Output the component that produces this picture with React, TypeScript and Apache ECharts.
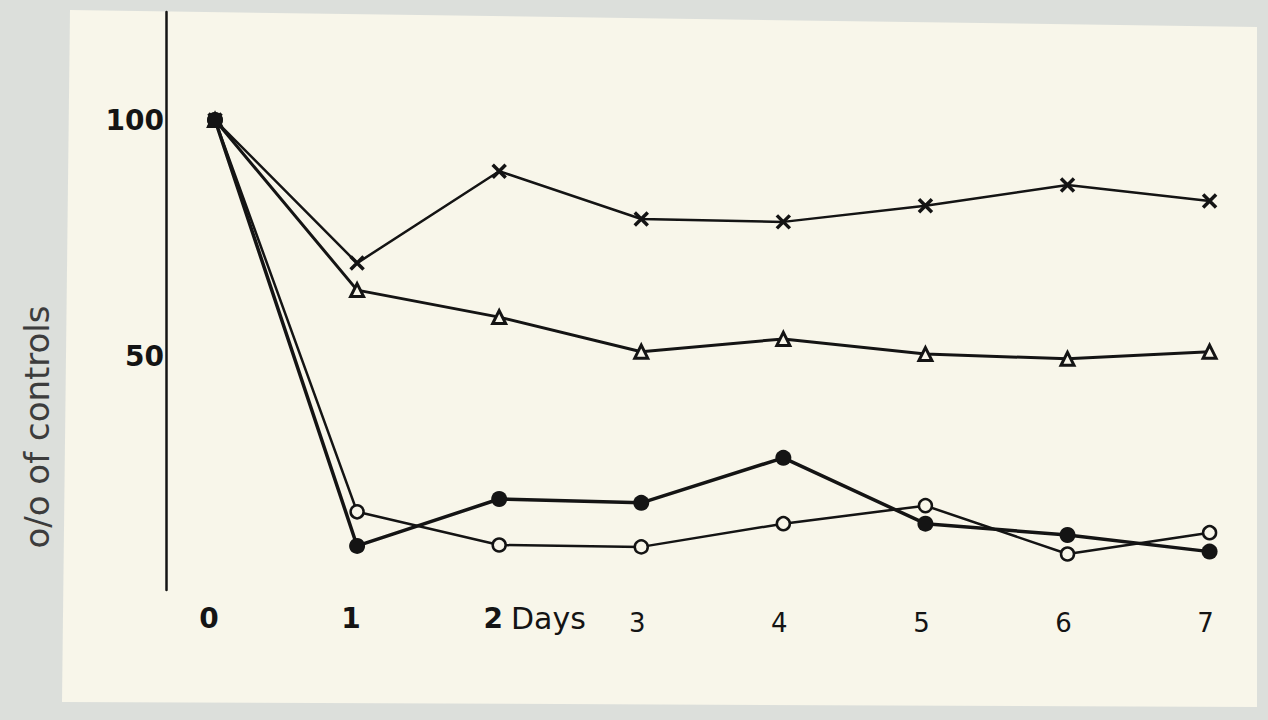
import React, { useEffect, useRef } from "react";
import * as echarts from "echarts";

const days = [0, 1, 2, 3, 4, 5, 6, 7];
const crossVals = [100, 69.8, 89.2, 79.1, 78.5, 81.9, 86.3, 82.9];
const triVals = [100, 64.1, 58.4, 51.1, 53.8, 50.6, 49.6, 51.1];
const filledVals = [100, 10.1, 20.0, 19.2, 28.7, 14.8, 12.4, 8.9];
const openVals = [100, 17.3, 10.3, 9.9, 14.8, 18.6, 8.4, 12.9];
const yTicks = [50, 100];
const yName = "o/o of controls";
const daysLabel = "Days";

const INK = "#141414";
const PAPER = "#f8f6ea";
const FONT = "'DejaVu Sans', sans-serif";

export default function App() {
  const ref = useRef<HTMLDivElement>(null);
  useEffect(() => {
    document.body.style.margin = "0";
    const chart = echarts.init(ref.current!, null, { renderer: "svg" });
    const pts = (vals: number[]) => days.map((d, i) => [d, vals[i]]);
    chart.setOption({
      animation: false,
      backgroundColor: "#dcdfdb",
      graphic: [
        {
          type: "polygon",
          z: -10,
          silent: true,
          shape: { points: [[70, 10], [1257, 27], [1257, 707], [62, 702]] },
          style: { fill: PAPER },
        },
        {
          type: "text",
          x: 511,
          y: 618,
          style: {
            text: daysLabel,
            fontFamily: FONT,
            fontSize: 30,
            fontWeight: 500,
            fill: INK,
            verticalAlign: "middle",
          },
        },
        {
          type: "text",
          x: 37,
          y: 427,
          rotation: Math.PI / 2,
          style: {
            text: yName,
            fontFamily: FONT,
            fontSize: 34,
            fill: "#3c3c3c",
            align: "center",
            verticalAlign: "middle",
          },
        },
      ],
      grid: { left: 166, top: 12, width: 1072, height: 578, containLabel: false },
      xAxis: {
        type: "value",
        min: -0.345,
        max: 7.2,
        axisLine: { show: false },
        axisTick: { show: false },
        splitLine: { show: false },
        axisLabel: {
          customValues: days,
          margin: 14,
          formatter: (v: number) => (v <= 2 ? `{b|${v}}` : `{n|${v}}`),
          rich: {
            b: { fontFamily: FONT, fontSize: 28, fontWeight: "bold", color: INK, padding: [0, 12, 0, 0] },
            n: { fontFamily: FONT, fontSize: 26, color: INK, padding: [6, 8, 0, 0] },
          },
        },
      },
      yAxis: {
        type: "value",
        min: 0.8,
        max: 122.8,
        axisLine: { show: true, onZero: false, lineStyle: { color: INK, width: 2.5 } },
        axisTick: { show: false },
        splitLine: { show: false },
        axisLabel: {
          customValues: yTicks,
          margin: 2,
          color: INK,
          fontFamily: FONT,
          fontWeight: "bold",
          fontSize: 28,
        },
      },
      series: [
        {
          type: "line",
          data: pts(crossVals),
          symbol: "path://M0,0L10,10M10,0L0,10",
          symbolSize: 13,
          lineStyle: { color: INK, width: 2.5 },
          itemStyle: { color: INK, borderColor: INK, borderWidth: 3.5 },
          z: 2,
        },
        {
          type: "line",
          data: pts(triVals),
          symbol: "triangle",
          symbolSize: 13,
          lineStyle: { color: INK, width: 3 },
          itemStyle: { color: PAPER, borderColor: INK, borderWidth: 3 },
          z: 2,
        },
        {
          type: "line",
          data: pts(openVals),
          symbol: "circle",
          symbolSize: 13,
          lineStyle: { color: INK, width: 2.5 },
          itemStyle: { color: PAPER, borderColor: INK, borderWidth: 2.5 },
          z: 3,
        },
        {
          type: "line",
          data: pts(filledVals),
          symbol: "circle",
          symbolSize: 16,
          lineStyle: { color: INK, width: 3.5 },
          itemStyle: { color: INK, borderColor: INK, borderWidth: 0 },
          z: 4,
        },
      ],
    });
    return () => chart.dispose();
  }, []);
  return <div ref={ref} style={{ width: 1268, height: 720 }} />;
}
